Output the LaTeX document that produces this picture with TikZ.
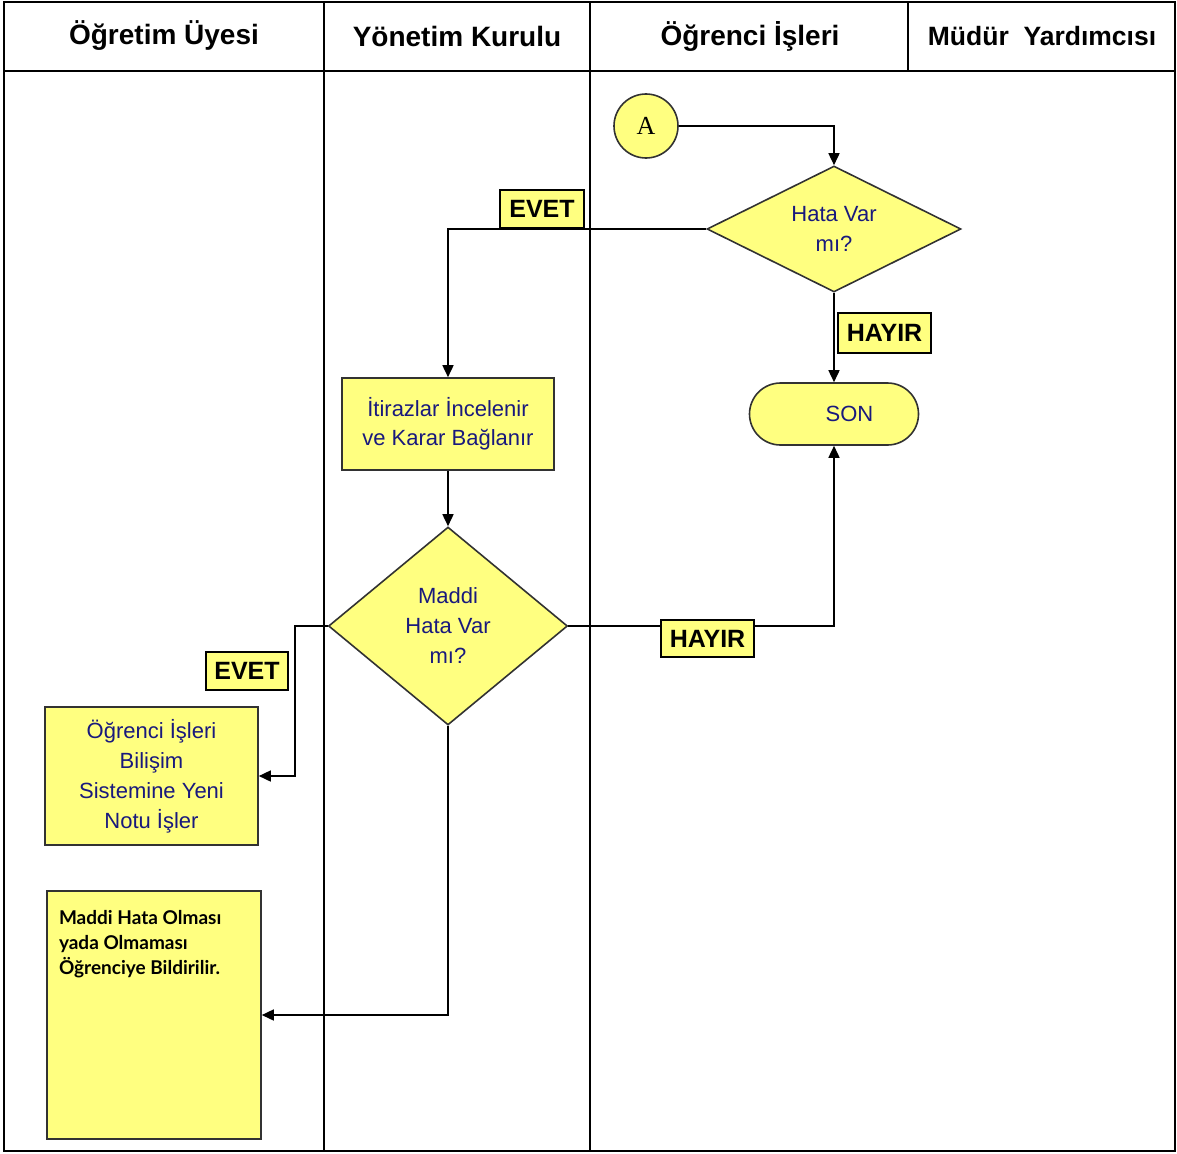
\documentclass[tikz,border=0pt]{standalone}
\usepackage{fontspec}
\setmainfont{Liberation Sans}
\newfontfamily\serifA{Liberation Serif}
\newfontfamily\notefont{Lato}
\usepackage{tikz}
\usetikzlibrary{shapes.geometric, arrows.meta}
\definecolor{boxyellow}{RGB}{255,255,128}
\definecolor{textblue}{RGB}{25,25,125}
\definecolor{edgegray}{RGB}{50,50,50}
\tikzset{
>={Triangle[length=12pt,width=11pt]}, % solid triangle heads like the original chart
}
\begin{document}
\begin{tikzpicture}[
  x=1pt, y=-1pt,
  line width=1.6pt,
  body/.style={font=\fontsize{22pt}{30pt}\selectfont, text=textblue, align=center},
  process/.style={rectangle, draw=edgegray, fill=boxyellow, inner sep=0pt, body},
  decision/.style={diamond, draw=edgegray, fill=boxyellow, inner sep=0pt, body},
  answer/.style={rectangle, draw=black, fill=boxyellow, inner sep=0pt, font=\fontsize{25pt}{25pt}\selectfont\bfseries},
  lane/.style={font=\fontsize{28pt}{28pt}\selectfont\bfseries}
]
  \useasboundingbox (0,0) rectangle (1177,1153);
  % swimlane frame
  \draw[line width=2pt] (4,2) rectangle (1175,1151);
  \draw[line width=2.6pt] (4,71) -- (1175,71);
  \draw (324,2) -- (324,1151);
  \draw (590,2) -- (590,1151);
  \draw (908,2) -- (908,71);
  \node[lane] (ogretim) at (164,36) {Öğretim Üyesi};
  \node[lane] (yonetim) at (457,36) {Yönetim Kurulu};
  \node[lane] (ogrenci) at (750,36) {Öğrenci İşleri};
  \node[lane, font=\fontsize{26.5pt}{26.5pt}\selectfont\bfseries] (mudur) at (1042,36) {Müdür\ \ Yardımcısı};

  % flow shapes
  \node[circle, draw=edgegray, fill=boxyellow, minimum size=64pt, inner sep=0pt,
        font=\serifA\fontsize{26pt}{26pt}\selectfont] (A) at (646,126) {A};
  \node[decision, aspect=2, minimum width=254pt, minimum height=126pt] (hata) at (834,229) {Hata Var\\mı?};
  \node[process, minimum width=212pt, minimum height=92pt] (itiraz) at (448,424) {İtirazlar İncelenir\\[-1pt]ve Karar Bağlanır};
  \node[decision, aspect=1.2, minimum width=239pt, minimum height=198pt] (maddi) at (448,626) {Maddi\\Hata Var\\mı?};
  \node[process, rounded corners=31pt, minimum width=169pt, minimum height=62pt] (son) at (834,414) {\hspace*{31pt}SON};
  \node[process, minimum width=213pt, minimum height=138pt] (ogrnot) at (151.5,776) {Öğrenci İşleri\\Bilişim\\Sistemine Yeni\\Notu İşler};
  \node[rectangle, draw=edgegray, fill=boxyellow, inner xsep=12pt, inner ysep=19pt,
        font=\notefont\bfseries\fontsize{19pt}{25pt}\selectfont] (bildir) at (154,1015)
        {\parbox[t][210pt][t]{190pt}{Maddi Hata Olması\\yada Olmaması\\Öğrenciye Bildirilir.}};

  % connectors
  \draw[->] (A.east) -| (hata.north);
  \draw[->] (hata.west) -| (itiraz.north);
  \draw[->] (itiraz.south) -- (maddi.north);
  \draw[->] (hata.south) -- (son.north);
  \draw[->] (maddi.east) -| (son.south);
  \draw[->] (maddi.west) -- ++(-33,0) |- (ogrnot.east);
  \draw[->] (maddi.south) |- (bildir.east);

  % answer tags
  \node[answer, minimum width=84pt, minimum height=38pt] (evet1) at (542,209) {EVET};
  \node[answer, minimum width=93pt, minimum height=40pt] (hayir1) at (884.5,333) {HAYIR};
  \node[answer, minimum width=93pt, minimum height=37pt] (hayir2) at (707.5,638.5) {HAYIR};
  \node[answer, minimum width=82pt, minimum height=38pt] (evet2) at (247,671) {EVET};
\end{tikzpicture}
\end{document}
